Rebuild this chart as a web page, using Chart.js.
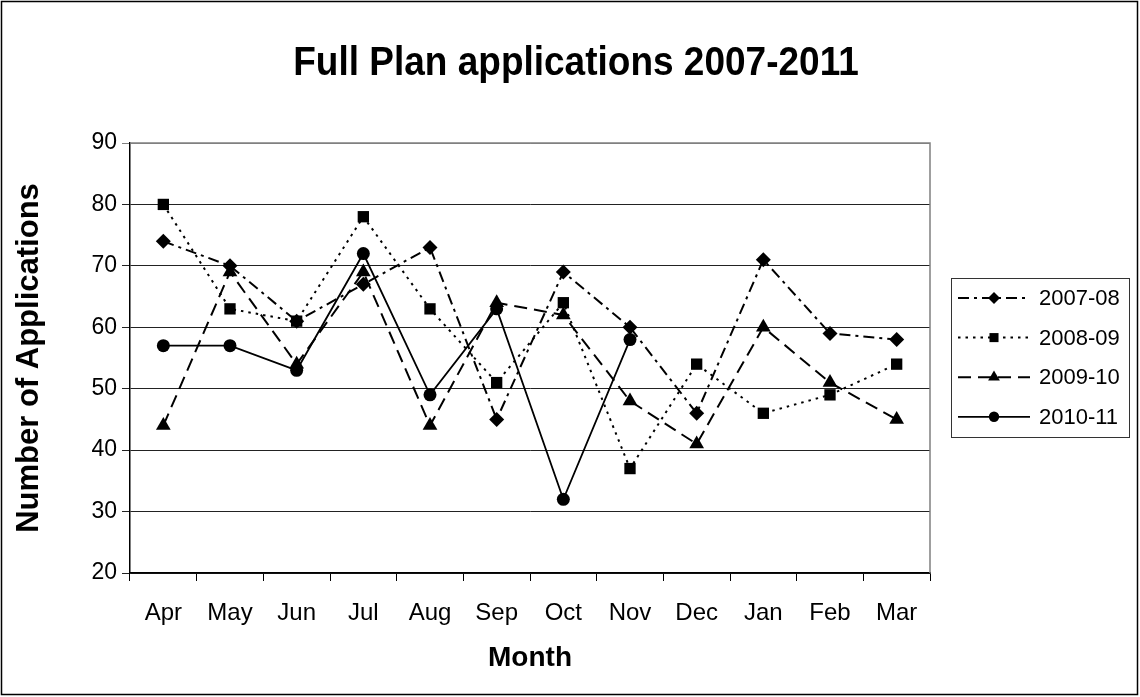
<!DOCTYPE html>
<html>
<head>
<meta charset="utf-8">
<script src="https://cdn.jsdelivr.net/npm/chart.js@4.4.0/dist/chart.umd.min.js"></script>
<style>
  html, body { margin: 0; padding: 0; background: #fff; }
  #wrap { width: 1140px; height: 697px; }
</style>
</head>
<body>
<div id="wrap"><canvas id="lineChart" width="1140" height="697"></canvas></div>
<script>
var months = ["Apr", "May", "Jun", "Jul", "Aug", "Sep", "Oct", "Nov", "Dec", "Jan", "Feb", "Mar"];
var seriesNames = ["2007-08", "2008-09", "2009-10", "2010-11"];
var apps0708 = [74, 70, 61, 67, 73, 45, 69, 60, 46, 71, 59, 58];
var apps0809 = [80, 63, 61, 78, 63, 51, 64, 37, 54, 46, 49, 54];
var apps0910 = [44, 69, 54, 69, 44, 64, 62, 48, 41, 60, 51, 45];
var apps1011 = [57, 57, 53, 72, 49, 63, 32, 58, null, null, null, null];
var yTicks = [20, 30, 40, 50, 60, 70, 80, 90];

var FONT = "'Liberation Sans', Arial, sans-serif";

// frame, title, plot border and legend
var extras = {
    id: 'extras',
    beforeDatasetsDraw: function (chart) {
        var ctx = chart.ctx, a = chart.chartArea;
        ctx.save();
        ctx.strokeStyle = '#808080';
        ctx.lineWidth = 1.5;
        ctx.beginPath();
        ctx.moveTo(a.left, a.top);
        ctx.lineTo(a.right, a.top);
        ctx.lineTo(a.right, a.bottom);
        ctx.stroke();
        ctx.restore();
    },
    afterDraw: function (chart) {
        var ctx = chart.ctx;
        ctx.save();
        // outer frame
        ctx.strokeStyle = '#000';
        ctx.lineWidth = 1.5;
        ctx.strokeRect(1.5, 1.5, 1136, 693);
        // title (a touch taller, like the original)
        ctx.fillStyle = '#000';
        ctx.font = "bold 37px " + FONT;
        ctx.textAlign = 'center';
        ctx.textBaseline = 'middle';
        ctx.save();
        ctx.translate(576, 64);
        ctx.scale(1, 1.1);
        ctx.fillText("Full Plan applications 2007-2011", 0, 0);
        ctx.restore();
        // legend
        ctx.strokeStyle = '#333';
        ctx.lineWidth = 1;
        ctx.strokeRect(951.5, 278.5, 178, 159);
        ctx.font = "22px " + FONT;
        ctx.textAlign = 'left';
        chart.data.datasets.forEach(function (ds, i) {
            var y = 298 + i * 39.6;
            ctx.save();
            ctx.strokeStyle = '#000';
            ctx.lineWidth = ds.borderWidth;
            ctx.setLineDash(ds.borderDash || []);
            ctx.beginPath();
            ctx.moveTo(958, y);
            ctx.lineTo(1030, y);
            ctx.stroke();
            ctx.restore();
            ctx.fillStyle = '#000';
            Chart.helpers.drawPoint(ctx, {
                pointStyle: ds.pointStyle,
                radius: ds.pointRadius * 0.8,
                rotation: 0,
                borderWidth: 0
            }, 994, y);
            ctx.fillStyle = '#000';
            ctx.fillText(ds.label, 1039, y + 1);
        });
        ctx.restore();
    }
};

function makeSet(label, data, dash, style, radius, width) {
    return {
        label: label,
        data: data,
        borderColor: '#000',
        backgroundColor: '#000',
        pointBackgroundColor: '#000',
        pointBorderColor: '#000',
        borderWidth: width,
        borderDash: dash,
        pointStyle: style,
        pointRadius: radius,
        pointBorderWidth: 0,
        tension: 0,
        fill: false,
        spanGaps: false
    };
}

var ctx = document.getElementById("lineChart");
var lineChart = new Chart(ctx, {
    type: 'line',
    data: {
        labels: months,
        datasets: [
            makeSet(seriesNames[0], apps0708, [11, 5, 3, 5], 'rectRot', 7.5, 2),
            makeSet(seriesNames[1], apps0809, [2.5, 5], 'rect', 8, 2),
            makeSet(seriesNames[2], apps0910, [13, 7], 'triangle', 8.5, 2),
            makeSet(seriesNames[3], apps1011, [], 'circle', 6.5, 1.8)
        ]
    },
    plugins: [extras],
    options: {
        responsive: false,
        animation: false,
        events: [],
        layout: { padding: { top: 143, right: 210, left: 0, bottom: 0 } },
        plugins: {
            legend: { display: false },
            title: { display: false },
            tooltip: { enabled: false }
        },
        scales: {
            x: {
                offset: true,
                afterFit: function (scale) { scale.height = 124; },
                grid: {
                    offset: true,
                    drawOnChartArea: false,
                    drawTicks: true,
                    tickLength: 8,
                    color: '#000',
                    lineWidth: 1
                },
                border: { color: '#000', width: 1.5 },
                ticks: {
                    color: '#000',
                    padding: 18,
                    maxRotation: 0,
                    font: { family: FONT, size: 24 }
                },
                title: {
                    display: true,
                    text: 'Month',
                    color: '#000',
                    font: { family: FONT, size: 28, weight: 'bold' },
                    padding: { top: 0, bottom: 22 }
                }
            },
            y: {
                min: 20,
                max: 90,
                afterFit: function (scale) { scale.width = 130; },
                afterBuildTicks: function (scale) {
                    scale.ticks = yTicks.map(function (v) { return { value: v }; });
                },
                grid: {
                    color: function (c) { return c.tick && c.tick.value === 90 ? '#808080' : '#222'; },
                    lineWidth: 1,
                    tickLength: 8
                },
                border: { color: '#000', width: 1.5 },
                ticks: {
                    color: '#000',
                    padding: 5,
                    font: { family: FONT, size: 23 }
                },
                title: {
                    display: true,
                    text: 'Number of Applications',
                    color: '#000',
                    font: { family: FONT, size: 31, weight: 'bold' },
                    padding: { top: 11, bottom: 0 }
                }
            }
        }
    }
});
</script>
</body>
</html>
